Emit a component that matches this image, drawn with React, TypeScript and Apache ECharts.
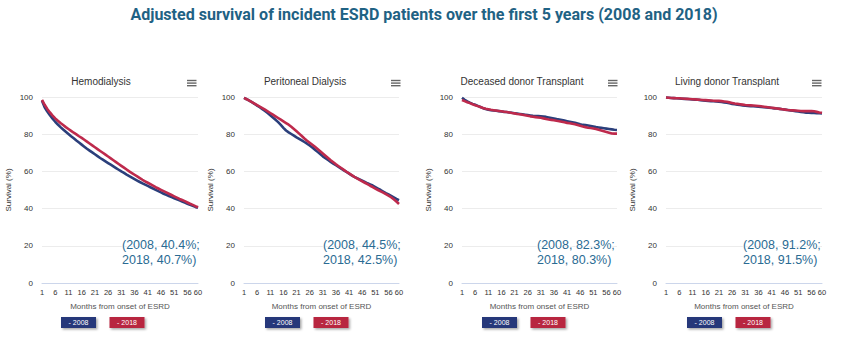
import React, { useEffect, useRef } from "react";
import * as echarts from "echarts";

const chartTitle = "Adjusted survival of incident ESRD patients over the first 5 years (2008 and 2018)";
const panelTitles = ["Hemodialysis", "Peritoneal Dialysis", "Deceased donor Transplant", "Living donor Transplant"];
const seriesNames = ["2008", "2018"];
const months = Array.from({ length: 60 }, (_, i) => String(i + 1));
const yTicks = { min: 0, max: 100, step: 20 };
const xAxisName = "Months from onset of ESRD";
const yAxisName = "Survival (%)";

const hd2008 = [98.0, 94.5, 92.2, 90.2, 88.4, 86.7, 85.2, 83.8, 82.5, 81.3, 80.1, 78.9, 77.8, 76.6, 75.5, 74.4, 73.3, 72.2, 71.2, 70.2,
  69.2, 68.2, 67.2, 66.3, 65.4, 64.5, 63.6, 62.7, 61.8, 60.9, 60.0, 59.2, 58.3, 57.5, 56.7, 55.9, 55.1, 54.3, 53.6, 52.9,
  52.2, 51.5, 50.8, 50.1, 49.4, 48.7, 48.0, 47.4, 46.8, 46.2, 45.6, 45.0, 44.4, 43.8, 43.2, 42.6, 42.0, 41.5, 40.9, 40.4];
const hd2018 = [98.5, 95.8, 93.6, 91.7, 90.0, 88.5, 87.2, 86.0, 84.9, 83.8, 82.8, 81.8, 80.8, 79.9, 78.9, 78.0, 77.0, 76.0, 75.0, 74.0,
  73.0, 72.0, 71.0, 70.0, 69.0, 68.0, 67.0, 66.0, 65.0, 64.0, 63.0, 62.0, 61.0, 60.0, 59.1, 58.2, 57.3, 56.4, 55.5, 54.7,
  53.9, 53.1, 52.3, 51.5, 50.8, 50.1, 49.4, 48.7, 48.0, 47.3, 46.6, 45.9, 45.2, 44.6, 44.0, 43.3, 42.6, 42.0, 41.3, 40.7];
const pd2008 = [99.5, 98.8, 98.0, 97.2, 96.3, 95.4, 94.5, 93.5, 92.5, 91.4, 90.2, 89.0, 87.8, 86.5, 85.0, 83.4, 82.0, 81.0, 80.1, 79.2,
  78.3, 77.5, 76.7, 75.8, 74.9, 73.9, 72.8, 71.7, 70.5, 69.3, 68.1, 67.1, 66.1, 65.1, 64.2, 63.3, 62.4, 61.5, 60.6, 59.7,
  58.8, 57.9, 57.1, 56.4, 55.7, 55.0, 54.3, 53.6, 53.0, 52.4, 51.6, 50.8, 50.0, 49.1, 48.3, 47.6, 46.8, 46.0, 45.2, 44.5];
const pd2018 = [99.5, 98.8, 98.0, 97.2, 96.4, 95.6, 94.8, 94.0, 93.2, 92.3, 91.4, 90.5, 89.6, 88.7, 87.8, 86.9, 86.0, 85.1, 84.0, 82.8,
  81.6, 80.3, 79.0, 77.7, 76.5, 75.4, 74.3, 73.2, 72.0, 70.8, 69.6, 68.4, 67.2, 66.0, 64.9, 63.8, 62.8, 61.8, 60.8, 59.8,
  58.9, 58.0, 57.1, 56.3, 55.5, 54.7, 53.9, 53.1, 52.3, 51.6, 50.8, 50.0, 49.3, 48.6, 47.8, 47.0, 46.1, 45.0, 43.8, 42.5];
const dd2008 = [99.6, 98.5, 97.6, 96.9, 96.3, 95.8, 95.2, 94.6, 94.0, 93.5, 93.1, 92.9, 92.7, 92.6, 92.4, 92.2, 92.0, 91.9, 91.7, 91.5,
  91.3, 91.1, 90.9, 90.7, 90.5, 90.3, 90.1, 89.9, 89.8, 89.7, 89.6, 89.5, 89.3, 89.0, 88.7, 88.4, 88.1, 87.9, 87.6, 87.3,
  87.0, 86.7, 86.4, 86.1, 85.7, 85.3, 85.0, 84.9, 84.7, 84.4, 84.1, 83.8, 83.6, 83.4, 83.2, 83.0, 82.8, 82.6, 82.4, 82.3];
const dd2018 = [98.4, 97.8, 97.2, 96.7, 96.1, 95.6, 95.1, 94.6, 94.1, 93.7, 93.4, 93.1, 92.9, 92.7, 92.5, 92.3, 92.1, 91.9, 91.7, 91.4,
  91.2, 90.9, 90.7, 90.5, 90.2, 89.9, 89.6, 89.4, 89.2, 89.0, 88.8, 88.5, 88.2, 87.9, 87.7, 87.5, 87.2, 87.0, 86.7, 86.4,
  86.1, 85.9, 85.6, 85.3, 84.9, 84.5, 84.1, 83.8, 83.5, 83.3, 83.1, 82.8, 82.4, 82.0, 81.6, 81.2, 80.8, 80.4, 80.3, 80.3];
const ld2008 = [99.7, 99.6, 99.5, 99.4, 99.3, 99.2, 99.1, 99.0, 98.9, 98.8, 98.7, 98.6, 98.5, 98.3, 98.2, 98.0, 97.9, 97.8, 97.7, 97.6,
  97.5, 97.3, 97.1, 96.9, 96.6, 96.3, 96.1, 95.9, 95.7, 95.5, 95.3, 95.2, 95.1, 95.0, 94.9, 94.8, 94.6, 94.5, 94.4, 94.3,
  94.1, 93.9, 93.8, 93.6, 93.4, 93.2, 93.0, 92.8, 92.6, 92.4, 92.2, 92.0, 91.8, 91.6, 91.5, 91.4, 91.4, 91.3, 91.3, 91.2];
const ld2018 = [99.7, 99.6, 99.5, 99.4, 99.3, 99.3, 99.2, 99.1, 99.0, 98.9, 98.8, 98.7, 98.6, 98.5, 98.4, 98.3, 98.2, 98.1, 98.0, 97.9,
  97.9, 97.8, 97.6, 97.4, 97.1, 96.8, 96.5, 96.3, 96.1, 95.9, 95.7, 95.6, 95.5, 95.4, 95.3, 95.2, 95.0, 94.8, 94.6, 94.4,
  94.2, 94.0, 93.8, 93.6, 93.4, 93.2, 93.0, 92.9, 92.8, 92.7, 92.6, 92.5, 92.4, 92.4, 92.4, 92.4, 92.3, 92.0, 91.7, 91.5];

const annotations = [
  "(2008, 40.4%;\n2018, 40.7%)",
  "(2008, 44.5%;\n2018, 42.5%)",
  "(2008, 82.3%;\n2018, 80.3%)",
  "(2008, 91.2%;\n2018, 91.5%)",
];

const panelData = [
  [hd2008, hd2018],
  [pd2008, pd2018],
  [dd2008, dd2018],
  [ld2008, ld2018],
];

// layout (pixels)
const layout = [
  { gridLeft: 42, gridWidth: 156, titleX: 101, menuX: 187, annX: 122, legX: 61 },
  { gridLeft: 244, gridWidth: 155, titleX: 305, menuX: 391, annX: 323, legX: 265 },
  { gridLeft: 462, gridWidth: 155, titleX: 522, menuX: 608, annX: 537, legX: 482 },
  { gridLeft: 666, gridWidth: 156, titleX: 727, menuX: 812, annX: 743, legX: 687 },
];
const gridTop = 97;
const gridHeight = 186;
const lineColors = ["#2b3f7b", "#be2a4c"];
const buttonColors = ["#26397a", "#b8253f"];
const FONT = "'Liberation Sans', Arial, sans-serif";

export default function App() {
  const ref = useRef<HTMLDivElement>(null);
  useEffect(() => {
    document.body.style.margin = "0";
    if (!ref.current) return;
    const chart = echarts.init(ref.current, null, { renderer: "svg" });

    let titleScale = 1;
    const titleFontSize = 17;
    const titleFont = `bold ${titleFontSize}px Roboto`;
    try {
      const c = document.createElement("canvas").getContext("2d");
      if (c) {
        c.font = titleFont;
        const w = c.measureText(chartTitle).width;
        if (w > 0) titleScale = 588 / w;
      }
    } catch (e) {}

    const grid: any[] = [];
    const xAxis: any[] = [];
    const yAxis: any[] = [];
    const series: any[] = [];
    const graphic: any[] = [];

    graphic.push({
      type: "text",
      x: 424,
      y: 14.5,
      z: 20,
      scaleX: titleScale,
      style: {
        text: chartTitle,
        font: titleFont,
        fill: "#1f6284",
        align: "center",
        verticalAlign: "middle",
      },
    });

    layout.forEach((L, i) => {
      grid.push({ left: L.gridLeft, top: gridTop, width: L.gridWidth, height: gridHeight });
      xAxis.push({
        type: "category",
        gridIndex: i,
        data: months,
        boundaryGap: false,
        axisLine: { lineStyle: { color: "#ccd6eb", width: 1 } },
        axisTick: { show: false },
        axisLabel: {
          interval: (idx: number) => idx % 5 === 0 || idx === 59,
          fontSize: 7.5,
          color: "#333",
          margin: 5,
          fontFamily: FONT,
        },
        splitLine: { show: false },
        name: xAxisName,
        nameLocation: "middle",
        nameGap: 19,
        nameTextStyle: { fontSize: 8, color: "#555", fontFamily: FONT },
      });
      yAxis.push({
        type: "value",
        gridIndex: i,
        min: yTicks.min,
        max: yTicks.max,
        interval: yTicks.step,
        axisLine: { show: false },
        axisTick: { show: false },
        axisLabel: { fontSize: 8, color: "#333", margin: 9, fontFamily: FONT },
        splitLine: { lineStyle: { color: "#ececec", width: 1 } },
        name: yAxisName,
        nameLocation: "middle",
        nameGap: 30,
        nameRotate: 90,
        nameTextStyle: { fontSize: 8, color: "#333", fontFamily: FONT },
      });
      panelData[i].forEach((vals, s) => {
        series.push({
          type: "line",
          name: seriesNames[s],
          xAxisIndex: i,
          yAxisIndex: i,
          data: vals,
          symbol: "none",
          smooth: false,
          lineStyle: { color: lineColors[s], width: 2.6 },
          itemStyle: { color: lineColors[s] },
          z: 3 + s,
        });
      });

      graphic.push({
        type: "text",
        x: L.titleX,
        y: 81,
        z: 20,
        style: {
          text: panelTitles[i],
          fontSize: 10,
          fontFamily: FONT,
          fill: "#333",
          align: "center",
          verticalAlign: "middle",
        },
      });
      [0, 1, 2].forEach((k) => {
        graphic.push({
          type: "rect",
          z: 20,
          shape: { x: L.menuX, y: 79.8 + k * 2.6, width: 9.5, height: 1.4 },
          style: { fill: "#666" },
        });
      });
      // white backing so the grid line does not strike through the note
      graphic.push({
        type: "text",
        x: L.annX,
        y: 237.5,
        z: 20,
        style: {
          text: annotations[i],
          fontSize: 12.5,
          lineHeight: 15,
          fontFamily: FONT,
          fill: "#2a6b93",
          align: "left",
          verticalAlign: "top",
          stroke: "#ffffff",
          lineWidth: 2,
        },
      });
      seriesNames.forEach((nm, s) => {
        const bx = L.legX + s * 48.5;
        graphic.push({
          type: "rect",
          z: 20,
          shape: { x: bx, y: 317, width: 35, height: 11 },
          style: {
            fill: buttonColors[s],
            shadowBlur: 2,
            shadowOffsetX: 1.5,
            shadowOffsetY: 1.5,
            shadowColor: "rgba(0,0,0,0.35)",
          },
        });
        graphic.push({
          type: "text",
          x: bx + 17.5,
          y: 322.5,
          z: 21,
          style: {
            text: "- " + nm,
            fontSize: 7,
            fontFamily: FONT,
            fill: "#ffffff",
            align: "center",
            verticalAlign: "middle",
          },
        });
      });
    });

    chart.setOption({
      animation: false,
      backgroundColor: "#ffffff",
      grid,
      xAxis,
      yAxis,
      series,
      graphic,
    });
    return () => chart.dispose();
  }, []);
  return <div ref={ref} style={{ width: 854, height: 360 }} />;
}
